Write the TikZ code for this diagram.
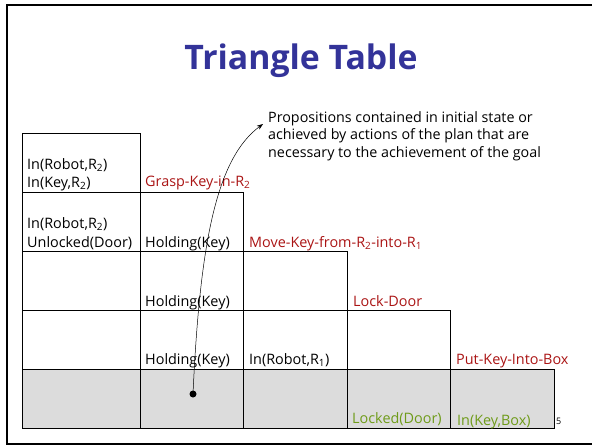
\documentclass[tikz,border=0pt]{standalone}
\usepackage{fontspec}
\setmainfont{Open Sans}
\usetikzlibrary{arrows.meta, positioning}
\definecolor{titleblue}{RGB}{51,51,153}
\definecolor{actred}{RGB}{170,20,20}
\definecolor{goalgreen}{RGB}{110,155,25}
\definecolor{cellgray}{RGB}{220,220,220}

\begin{document}
\begin{tikzpicture}[
    x=1pt, y=-1pt,
    cell/.style={draw, line width=1pt},
    prop/.style={anchor=base west, inner sep=0pt, font=\fontsize{14.4}{17}\selectfont},
    action/.style={prop, text=actred},
    goal/.style={prop, text=goalgreen},
    arrow/.style={-{Stealth[length=2.2mm, width=1.6mm]}, line width=0.5pt},
]
    \useasboundingbox (0,0) rectangle (592,447);

    % Slide frame
    \draw[line width=2pt] (592,5) -- (7,5) -- (7,444) -- (592,444);

    % Title
    \node[font=\fontsize{33.8}{40}\selectfont\bfseries, text=titleblue, anchor=base] (title) at (301,69) {Triangle Table};

    % Staircase of cells, last row shaded
    \fill[cellgray] (22,369) rectangle (554,428);
    \foreach \i in {0,...,4}
      \foreach \j in {0,...,\i} {
        \pgfmathsetmacro\xa{\j==0 ? 22 : 36.5+103.5*\j}
        \pgfmathsetmacro\xb{36.5+103.5*(\j+1)}
        \draw[cell] (\xa,133+59*\i) rectangle (\xb,192+59*\i);
      }

    % Row 1
    \node[prop] (robotA) at (27,169) {In(Robot,R\textsubscript{2})};
    \node[prop] (keyA) at (27,187) {In(Key,R\textsubscript{2})};
    \node[action] (grasp) at (145,186) {Grasp-Key-in-R\textsubscript{2}};

    % Row 2
    \node[prop] (robotB) at (27,228) {In(Robot,R\textsubscript{2})};
    \node[prop] (unlocked) at (27,247) {Unlocked(Door)};
    \node[prop] (holdA) at (145,247) {Holding(Key)};
    \node[action] (move) at (249,247) {Move-Key-from-R\textsubscript{2}-into-R\textsubscript{1}};

    % Row 3
    \node[prop] (holdB) at (145,306) {Holding(Key)};
    \node[action] (lock) at (353,306) {Lock-Door};

    % Row 4
    \node[prop] (holdC) at (145,364) {Holding(Key)};
    \node[prop] (robotC) at (249,364) {In(Robot,R\textsubscript{1})};
    \node[action] (put) at (456,364) {Put-Key-Into-Box};

    % Row 5: goal
    \node[goal] (locked) at (352,423) {Locked(Door)};
    \node[goal] (inbox) at (457,425) {In(Key,Box)};
    \node[anchor=base west, inner sep=0pt, font=\fontsize{9}{10}\selectfont] (page) at (556,424) {5};

    % Annotation
    \node[anchor=north west, inner sep=0pt, align=left, font=\fontsize{14.3}{17.5}\selectfont] (note) at (268,111)
      {Propositions contained in initial state or\\
       achieved by actions of the plan that are\\
       necessary to the achievement of the goal};
    \node[circle, fill, inner sep=0pt, minimum size=7pt] (dot) at (193,394) {};
    \coordinate (tip) at (263,124);
    \draw[arrow] (dot.center) .. controls (200,240) and (217,158) .. (tip);
\end{tikzpicture}
\end{document}
